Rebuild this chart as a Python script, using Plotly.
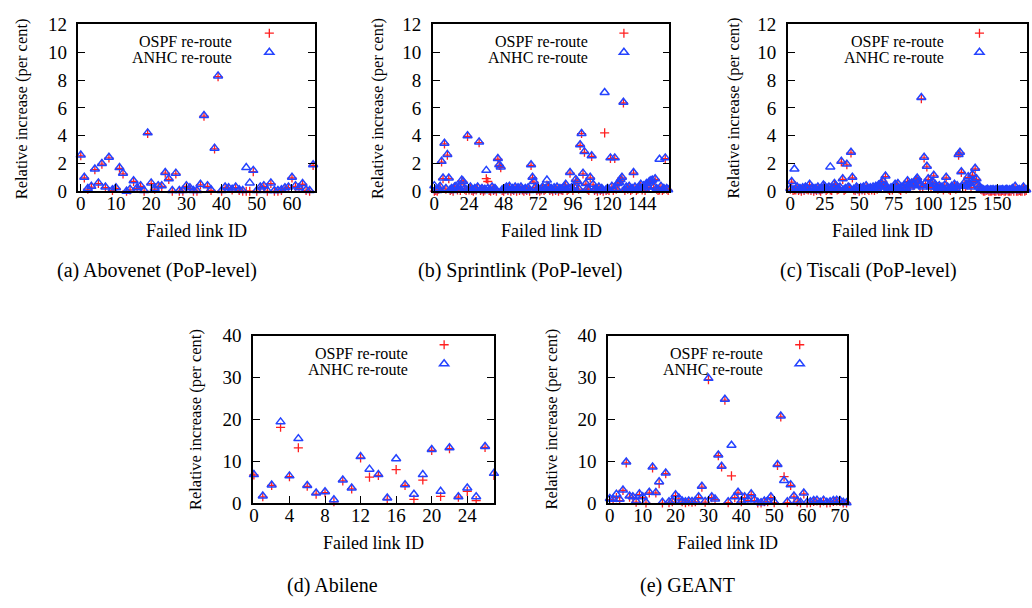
import plotly.graph_objects as go

# ---------------- data: relative increase (per cent) per failed link ----------------
abovenet_anhc = [2.6, 1.0, 0.2, 0.35, 1.6, 0.6, 2.0, 0.3, 2.45, 0.1,
                 0.25, 1.7, 1.3, 0.0, 0.15, 0.75, 0.25, 0.4, 0.05, 4.2,
                 0.6, 0.2, 0.4, 0.4, 1.35, 0.9, 0.05, 1.3, 0.05, 0.05,
                 0.4, 0.25, 0.05, 0.05, 0.5, 5.45, 0.4, 0.1, 3.1, 8.3,
                 0.05, 0.3, 0.25, 0.15, 0.3, 0.1, 0.05, 1.7, 0.6, 1.5,
                 0.05, 0.3, 0.4, 0.05, 0.6, 0.05, 0.05, 0.1, 0.25, 0.3,
                 1.0, 0.4, 0.25, 0.55, 0.1, 0.05, 1.9, 0.02]
abovenet_ospf = [2.55, 0.95, 0.15, 0.3, 1.55, 0.55, 1.95, 0.25, 2.4, 0.05,
                 0.2, 1.65, 1.25, 0.0, 0.1, 0.7, 0.2, 0.35, 0.0, 4.15,
                 0.55, 0.15, 0.35, 0.35, 1.3, 0.85, 0.0, 1.25, 0.0, 0.0,
                 0.35, 0.2, 0.0, 0.0, 0.45, 5.4, 0.35, 0.05, 3.05, 8.25,
                 0.0, 0.25, 0.2, 0.1, 0.25, 0.05, 0.0, 0.0, 0.0, 1.4,
                 0.0, 0.25, 0.35, 0.0, 0.55, 0.0, 0.0, 0.05, 0.2, 0.25,
                 0.95, 0.35, 0.2, 0.5, 0.05, 0.0, 1.85, 0.0]

sprint_anhc = [0.4, 0.1, 0.05, 0.2, 0.35, 2.15, 0.95, 3.45, 0.2, 2.65,
               0.95, 0.1, 0.2, 0.05, 0.3, 0.35, 0.15, 0.3, 0.1, 0.8,
               0.7, 0.2, 0.1, 4.0, 0.15, 0.3, 0.1, 0.05, 0.2, 0.15,
               0.3, 3.55, 0.1, 0.2, 0.05, 0.15, 1.5, 0.2, 0.1, 0.05,
               0.3, 0.1, 0.2, 0.05, 2.35, 1.9, 1.75, 0.1, 0.05, 0.2,
               0.3, 0.1, 0.35, 0.05, 0.2, 0.1, 0.3, 0.05, 0.25, 0.1,
               0.3, 0.15, 0.05, 0.2, 0.1, 0.25, 0.05, 1.9, 1.0, 0.7,
               0.3, 0.1, 0.2, 0.05, 0.15, 0.3, 0.1, 0.2, 0.8, 0.35,
               0.1, 0.2, 0.05, 0.25, 0.1, 0.3, 0.05, 0.2, 0.15, 0.1,
               0.3, 0.5, 0.1, 0.2, 1.35, 0.25, 0.1, 0.3, 0.85, 0.7,
               0.2, 3.35, 4.15, 1.3, 2.85, 0.55, 0.2, 0.1, 1.0, 2.55,
               0.5, 0.1, 0.2, 0.05, 0.3, 0.1, 0.2, 0.05, 7.1, 0.1,
               0.2, 0.1, 2.4, 0.35, 0.1, 2.4, 0.2, 0.55, 0.65, 0.85,
               1.0, 6.4, 0.1, 0.3, 0.2, 0.35, 0.1, 0.2, 1.35, 0.3,
               0.1, 0.2, 0.3, 0.5, 0.15, 0.4, 0.1, 0.55, 0.3, 0.7,
               0.75, 0.8, 0.3, 0.9, 0.2, 0.1, 2.3, 0.35, 0.1, 0.2,
               2.4, 0.2, 0.1, 0.05]
sprint_ospf = [0.0, 0.05, 0.0, 0.15, 0.3, 2.1, 0.9, 3.4, 0.15, 2.6,
               0.9, 0.05, 0.15, 0.0, 0.25, 0.3, 0.1, 0.25, 0.05, 0.75,
               0.65, 0.15, 0.05, 3.95, 0.1, 0.25, 0.05, 0.0, 0.15, 0.1,
               0.25, 3.5, 0.05, 0.15, 0.0, 0.1, 0.9, 0.7, 0.05, 0.0,
               0.25, 0.05, 0.15, 0.0, 2.3, 1.85, 1.7, 0.05, 0.0, 0.15,
               0.25, 0.05, 0.3, 0.0, 0.15, 0.05, 0.25, 0.0, 0.2, 0.05,
               0.25, 0.1, 0.0, 0.15, 0.05, 0.2, 0.0, 1.85, 0.95, 0.65,
               0.25, 0.05, 0.15, 0.0, 0.1, 0.25, 0.05, 0.15, 0.45, 0.3,
               0.05, 0.15, 0.0, 0.2, 0.05, 0.25, 0.0, 0.15, 0.1, 0.05,
               0.25, 0.45, 0.05, 0.15, 1.3, 0.2, 0.05, 0.25, 0.8, 0.65,
               0.15, 3.3, 4.15, 1.25, 2.8, 0.5, 0.15, 0.05, 0.95, 2.5,
               0.45, 0.05, 0.15, 0.0, 0.25, 0.05, 0.15, 0.0, 4.2, 0.05,
               0.15, 0.05, 2.35, 0.3, 0.05, 2.35, 0.15, 0.5, 0.6, 0.8,
               0.95, 6.35, 0.05, 0.25, 0.15, 0.3, 0.05, 0.15, 1.3, 0.25,
               0.05, 0.15, 0.25, 0.45, 0.1, 0.35, 0.05, 0.5, 0.25, 0.65,
               0.7, 0.75, 0.25, 0.85, 0.15, 0.05, 0.1, 0.3, 0.05, 0.15,
               2.35, 0.15, 0.05, 0.0]

tiscali_anhc = [0.2, 0.7, 0.1, 1.6, 0.15, 0.3, 0.1, 0.2, 0.05, 0.25,
                0.1, 0.3, 0.2, 0.15, 0.5, 0.1, 0.25, 0.05, 0.2, 0.1,
                0.3, 0.15, 0.05, 0.2, 0.45, 0.35, 0.1, 0.2, 0.3, 1.75,
                0.1, 0.25, 0.55, 0.4, 0.15, 0.2, 0.3, 2.15, 0.9, 0.1,
                0.2, 1.95, 0.3, 0.25, 2.8, 1.0, 0.15, 0.1, 0.3, 0.2,
                0.05, 0.25, 0.15, 0.3, 0.1, 0.4, 0.2, 0.1, 0.25, 0.15,
                0.3, 0.1, 0.35, 0.2, 0.45, 0.3, 0.55, 0.75, 0.4, 1.1,
                0.3, 0.2, 0.1, 0.25, 0.15, 0.3, 0.5, 0.4, 0.55, 0.2,
                0.1, 0.3, 0.25, 0.45, 0.2, 0.75, 0.5, 0.3, 0.6, 0.45,
                0.5, 0.8, 0.95, 0.7, 0.4, 6.75, 0.3, 2.45, 0.6, 1.8,
                0.9, 0.5, 0.3, 0.7, 1.15, 0.5, 0.3, 0.2, 0.4, 0.25,
                0.3, 0.15, 0.45, 1.0, 0.3, 0.2, 0.1, 0.35, 0.25, 0.5,
                0.2, 0.4, 2.65, 2.8, 1.4, 0.35, 0.6, 0.4, 0.5, 1.05,
                0.55, 0.3, 1.2, 0.75, 1.65, 0.9, 0.5, 0.3, 0.2, 0.15,
                0.1, 0.05, 0.1, 0.15, 0.05, 0.1, 0.08, 0.12, 0.05, 0.1,
                0.15, 0.05, 0.1, 0.08, 0.12, 0.05, 0.1, 0.15, 0.05, 0.1,
                0.08, 0.2, 0.1, 0.35, 0.05, 0.1, 0.12, 0.05, 0.1, 0.3,
                0.08, 0.1]
tiscali_ospf = [0.15, 0.65, 0.05, 0.1, 0.1, 0.25, 0.05, 0.15, 0.0, 0.2,
                0.05, 0.25, 0.15, 0.1, 0.45, 0.05, 0.2, 0.0, 0.15, 0.05,
                0.25, 0.1, 0.0, 0.15, 0.4, 0.3, 0.05, 0.15, 0.25, 0.1,
                0.05, 0.2, 0.5, 0.35, 0.1, 0.15, 0.25, 2.1, 0.85, 0.05,
                0.15, 1.9, 0.25, 0.2, 2.75, 0.95, 0.1, 0.05, 0.25, 0.15,
                0.0, 0.2, 0.1, 0.25, 0.05, 0.35, 0.15, 0.05, 0.2, 0.1,
                0.25, 0.05, 0.3, 0.15, 0.4, 0.25, 0.5, 0.7, 0.35, 1.05,
                0.25, 0.15, 0.05, 0.2, 0.1, 0.25, 0.45, 0.35, 0.5, 0.15,
                0.05, 0.25, 0.2, 0.4, 0.15, 0.7, 0.45, 0.25, 0.55, 0.4,
                0.45, 0.75, 0.9, 0.65, 0.35, 6.65, 0.3, 2.4, 0.55, 1.75,
                0.85, 0.45, 0.25, 0.65, 1.1, 0.45, 0.25, 0.15, 0.35, 0.2,
                0.25, 0.1, 0.4, 0.95, 0.25, 0.15, 0.05, 0.3, 0.2, 0.45,
                0.15, 0.35, 2.6, 2.75, 1.35, 0.3, 0.55, 0.35, 0.45, 1.0,
                0.5, 0.25, 1.15, 0.7, 1.6, 0.85, 0.45, 0.25, 0.15, 0.1,
                0.0, 0.0, 0.05, 0.1, 0.0, 0.0, 0.0, 0.05, 0.0, 0.0,
                0.1, 0.0, 0.0, 0.0, 0.05, 0.0, 0.0, 0.1, 0.0, 0.0,
                0.0, 0.15, 0.0, 0.3, 0.0, 0.0, 0.05, 0.0, 0.0, 0.25,
                0.0, 0.05]

abilene_anhc = [6.8, 1.7, 4.3, 19.4, 6.5, 15.4, 4.2, 2.4, 2.7, 0.8,
                5.5, 3.6, 11.1, 8.1, 6.8, 1.2, 10.6, 4.4, 2.1, 6.8,
                12.8, 2.8, 13.2, 1.5, 3.6, 1.5, 13.5, 7.1]
abilene_ospf = [6.7, 1.5, 4.2, 18.1, 6.3, 13.2, 4.0, 2.1, 2.5, 0.3,
                5.3, 3.4, 10.8, 6.2, 6.6, 0.9, 8.0, 4.2, 0.9, 5.5,
                12.6, 1.6, 13.0, 1.4, 2.8, 0.6, 13.3, 6.6]

geant_anhc = [1.1, 0.9, 2.1, 0.9, 3.1, 9.8, 1.7, 1.5, 0.5, 2.2,
              1.5, 0.2, 2.6, 8.6, 2.5, 5.1, 0.2, 7.2, 0.3, 0.5,
              2.0, 1.2, 0.5, 0.3, 0.5, 0.4, 0.5, 1.5, 4.0, 0.4,
              29.8, 1.5, 1.0, 11.5, 8.8, 24.8, 0.3, 13.8, 1.5, 2.6,
              0.5, 1.5, 0.8, 2.2, 0.8, 0.2, 0.1, 0.5, 0.5, 1.5,
              0.3, 9.2, 20.8, 5.4, 0.3, 4.4, 1.7, 0.5, 0.2, 2.4,
              0.2, 0.3, 0.6, 0.7, 0.2, 0.7, 0.2, 0.3, 0.6, 0.7,
              0.6, 0.2, 0.1]
geant_ospf = [0.8, 0.7, 1.3, 0.6, 3.0, 9.6, 1.4, 1.3, 0.2, 2.0,
              1.3, 0.0, 2.4, 8.4, 2.4, 4.6, 0.0, 7.0, 0.1, 0.3,
              1.8, 1.0, 0.3, 0.1, 0.3, 0.2, 0.3, 1.3, 3.8, 0.2,
              29.5, 1.3, 0.8, 11.3, 8.6, 24.6, 0.1, 6.5, 1.3, 2.4,
              0.3, 1.3, 0.6, 2.0, 0.6, 0.0, 0.0, 0.3, 0.3, 1.3,
              0.1, 9.0, 20.6, 6.3, 0.1, 4.2, 1.5, 0.3, 0.0, 2.2,
              0.0, 0.1, 0.4, 0.5, 0.0, 0.5, 0.0, 0.1, 0.4, 0.5,
              0.4, 0.0, 0.0]

captions = ["(a) Abovenet (PoP-level)", "(b) Sprintlink (PoP-level)",
            "(c) Tiscali (PoP-level)", "(d) Abilene", "(e) GEANT"]
series_names = ["OSPF re-route", "ANHC re-route"]
x_title = "Failed link ID"
y_title = "Relative increase (per cent)"
x_dticks = [10, 24, 25, 4, 10]
y_maxes = [12, 12, 12, 40, 40]
y_dticks = [2, 2, 2, 10, 10]

# ---------------- layout geometry (pixels on a 1032 x 608 canvas) ----------------
W, H = 1032, 608
FONT = "Liberation Serif"
RED = "#ff1f1f"
BLUE = "#2443ff"


def fx(px):
    return px / W


def fy(py):
    return 1 - py / H


# plot frame boxes: (left, right, top, bottom) in pixels, x range
panels = [
    dict(box=(75, 313, 15, 187.7), xr=(-0.65, 66.5), cap=(154, 270), xt=194, yt=(18, 102),
         leg=(268, 33), legtxt=232, data=(abovenet_ospf, abovenet_anhc)),
    dict(box=(431.7, 670, 15, 187.7), xr=(-1.1, 162.9), cap=(520, 270), xt=551, yt=(376, 102),
         leg=(625, 33), legtxt=590, data=(sprint_ospf, sprint_anhc)),
    dict(box=(789.3, 1030, 15, 187.7), xr=(-1.7, 171.6), cap=(870, 270), xt=885, yt=(734, 102),
         leg=(983, 33), legtxt=948, data=(tiscali_ospf, tiscali_anhc)),
    dict(box=(250.7, 493.3, 337.3, 510.7), xr=(-0.1, 27.0), cap=(331, 596), xt=372, yt=(193, 424),
         leg=(444, 355.7), legtxt=409, data=(abilene_ospf, abilene_anhc)),
    dict(box=(608.3, 848.3, 337.3, 510.7), xr=(-0.5, 72.0), cap=(688, 596), xt=728, yt=(551, 424),
         leg=(802, 355.7), legtxt=766, data=(geant_ospf, geant_anhc)),
]

fig = go.Figure()
annotations = []

for i, p in enumerate(panels):
    n = "" if i == 0 else str(i + 1)
    xa, ya = "x" + n, "y" + n
    leg = "legend" + n
    ospf, anhc = p["data"]
    ids = list(range(len(anhc)))

    fig.add_trace(go.Scatter(
        x=ids, y=ospf, xaxis=xa, yaxis=ya, mode="markers", name="",
        legend=leg, showlegend=True, cliponaxis=False,
        marker=dict(symbol="cross-thin-open", size=6.5, color=RED,
                    line=dict(color=RED, width=1.3)),
        hovertemplate=series_names[0] + ": %{y}<extra></extra>"))
    fig.add_trace(go.Scatter(
        x=ids, y=anhc, xaxis=xa, yaxis=ya, mode="markers", name="",
        legend=leg, showlegend=True, cliponaxis=False,
        marker=dict(symbol="triangle-up-open", size=8, color=BLUE,
                    line=dict(color=BLUE, width=1.5)),
        hovertemplate=series_names[1] + ": %{y}<extra></extra>"))

    l, r, t, b = p["box"]
    axis_common = dict(showline=True, linecolor="black", linewidth=1.6,
                       ticks="inside", ticklen=7, tickwidth=1.3, tickcolor="black",
                       showgrid=False, zeroline=False,
                       tickfont=dict(family=FONT, size=19, color="black"))
    fig.layout["xaxis" + n] = dict(
        domain=[fx(l), fx(r)], range=list(p["xr"]), anchor=ya, mirror=True,
        tick0=0, dtick=x_dticks[i], ticklabelstandoff=-6, **axis_common)
    fig.layout["yaxis" + n] = dict(
        domain=[fy(b), fy(t)], range=[0, y_maxes[i]], anchor=xa, mirror="ticks",
        tick0=0, dtick=y_dticks[i], ticklabelstandoff=6, **axis_common)

    mx, my = p["leg"]
    fig.layout[leg] = dict(x=fx(mx - 21), y=fy(my - 24), xanchor="left", yanchor="top",
                           bgcolor="rgba(0,0,0,0)", borderwidth=0, tracegroupgap=0,
                           itemwidth=30, font=dict(family=FONT, size=11.5))

    # legend labels, right-aligned to the left of the keys
    for k, name in enumerate(series_names):
        ty = p["leg"][1] + k * 16.7
        annotations.append(dict(
            x=fx(p["legtxt"]), y=fy(ty), xref="paper", yref="paper",
            xanchor="right", yanchor="middle", showarrow=False, text=name,
            font=dict(family=FONT, size=16, color="black")))

    # axis titles
    annotations.append(dict(
        x=fx(p["xt"]), y=fy(b + 41), xref="paper", yref="paper",
        xanchor="center", yanchor="middle", showarrow=False, text=x_title,
        font=dict(family=FONT, size=18, color="black")))
    annotations.append(dict(
        x=fx(p["yt"][0]), y=fy(p["yt"][1]), xref="paper", yref="paper",
        xanchor="center", yanchor="middle", showarrow=False, text=y_title,
        textangle=-90, font=dict(family=FONT, size=16.5, color="black")))

    # sub-figure caption
    annotations.append(dict(
        x=fx(p["cap"][0]), y=fy(p["cap"][1]), xref="paper", yref="paper",
        xanchor="center", yanchor="middle", showarrow=False, text=captions[i],
        font=dict(family=FONT, size=20, color="black")))

fig.update_layout(
    width=W, height=H, margin=dict(l=0, r=0, t=0, b=0),
    paper_bgcolor="white", plot_bgcolor="white",
    annotations=annotations,
    font=dict(family=FONT, color="black"),
)

fig.write_html("out.html")
